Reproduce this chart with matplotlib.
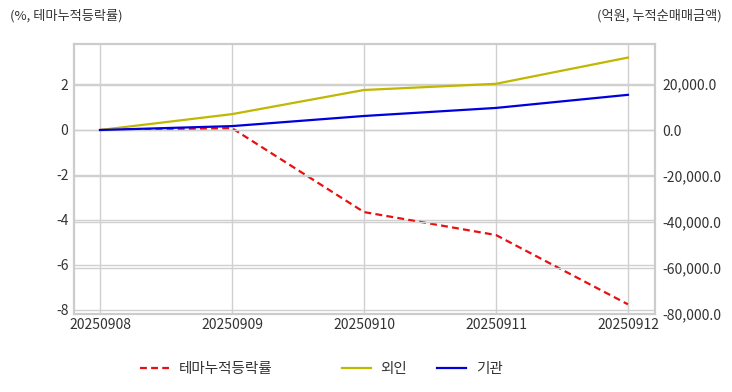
import matplotlib
matplotlib.use("Agg")
import matplotlib.pyplot as plt

plt.rcParams['font.family'] = ['Noto Sans CJK KR', 'DejaVu Sans']

dates = ["20250908", "20250909", "20250910", "20250911", "20250912"]
theme_rate = [0.0, 0.08, -3.65, -4.67, -7.75]
foreign = [0.0, 6900.0, 17400.0, 20100.0, 31500.0]
institution = [0.0, 1700.0, 6100.0, 9600.0, 15300.0]

left_ticks = [-8, -6, -4, -2, 0, 2]
right_ticks = [-80000, -60000, -40000, -20000, 0, 20000]

fig = plt.figure(figsize=(7.32, 3.92), dpi=100)
ax = fig.add_axes([74/732, 1-314/392, (655-74)/732, (314-44)/392])
ax2 = ax.twinx()

x = list(range(len(dates)))
red = '#e81010'
olive = '#c0b800'
blue = '#0000dd'
grid_c = '#d0d0d0'

l1, = ax.plot(x, theme_rate, color=red, lw=1.6, ls=(0, (3.1, 1.9)), zorder=3)
l2, = ax2.plot(x, foreign, color=olive, lw=1.6, zorder=3)
l3, = ax2.plot(x, institution, color=blue, lw=1.6, zorder=3)

ax.set_xlim(-0.197, 4.205)
ax.set_ylim(-8.18, 3.82)
ax2.set_ylim(-80000, 37400)

ax.set_xticks(x)
ax.set_xticklabels(dates)
ax.set_yticks(left_ticks)
ax.set_yticklabels([str(v) for v in left_ticks])
ax2.set_yticks(right_ticks)
ax2.set_yticklabels([f"{v:,.1f}" for v in right_ticks])

for a in (ax, ax2):
    a.tick_params(length=0, labelsize=10, colors='#333333')
    for s in a.spines.values():
        s.set_color('#cccccc')
        s.set_linewidth(1.5)
ax.tick_params(axis='y', pad=4)
ax.tick_params(axis='x', pad=3)
ax2.tick_params(axis='y', pad=5)

ax.grid(True, axis='both', color=grid_c, lw=1.0, zorder=0)
ax2.grid(True, axis='y', color=grid_c, lw=1.0, zorder=0)
ax.set_axisbelow(True)
ax2.set_axisbelow(True)

fig.text(10/732, 1-16/392, "(%, 테마누적등락률)", fontsize=9.5, color='#333333', va='center', ha='left')
fig.text(722/732, 1-16/392, "(억원, 누적순매매금액)", fontsize=9.5, color='#333333', va='center', ha='right')

handles = [l1, l2, l3]
labels = ["테마누적등락률", "외인", "기관"]
starts = [140, 342, 437]
for h, lab, xs in zip(handles, labels, starts):
    leg = fig.legend([h], [lab], loc='center left', bbox_to_anchor=(xs/732, 1-369/392),
                     frameon=False, fontsize=10.5, handlelength=2.0, handletextpad=0.65,
                     borderpad=0, borderaxespad=0)
    for t in leg.get_texts():
        t.set_color('#333333')

fig.savefig("out.png", dpi=100)
